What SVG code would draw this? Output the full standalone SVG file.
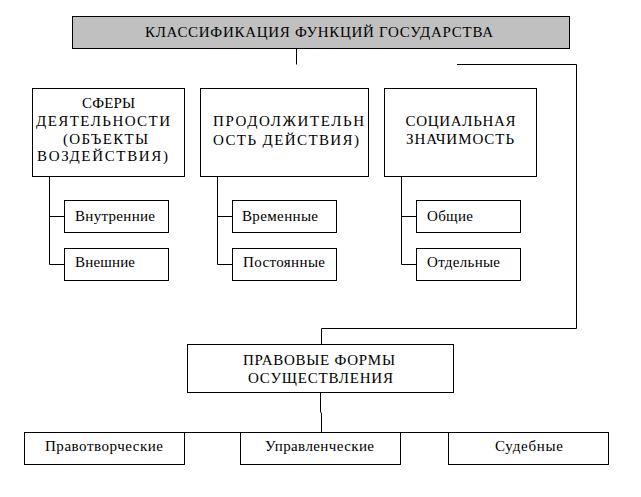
<svg xmlns="http://www.w3.org/2000/svg" width="641" height="497" viewBox="0 0 641 497">
<style>
rect{fill:#fff;stroke:#000;stroke-width:1}
#title rect{fill:#c0c0c0}
text{font-family:"Liberation Serif","Times New Roman",serif;font-size:15px;fill:#000}
.c{text-anchor:middle}
#connectors path{fill:none;stroke:#000;stroke-width:1}
</style>
<rect x="0" y="0" width="641" height="497" style="fill:#fff;stroke:none"/>
<g id="connectors">
<path d="M296.5 48.5V64.5"/>
<path d="M457 64.5H576.5V328.5H321.5V344.5"/>
<path d="M49.5 176.5V264.5H64.5M49.5 216.5H64.5"/>
<path d="M217.5 176.5V264.5H232.5M217.5 216.5H232.5"/>
<path d="M401.5 176.5V264.5H416.5M401.5 216.5H416.5"/>
<path d="M320.5 392.5V412.5M321.5 412.5V432.5"/>
<path d="M24.5 432.5H608.5"/>
</g>
<g id="title">
<rect x="72.5" y="16.5" width="497" height="32"/>
<text x="319" y="37" class="c" textLength="348" lengthAdjust="spacing">КЛАССИФИКАЦИЯ ФУНКЦИЙ ГОСУДАРСТВА</text>
</g>
<g id="spheres">
<rect x="32.5" y="88.5" width="152" height="88"/>
<text x="108.5" y="108" class="c" textLength="53" lengthAdjust="spacing">СФЕРЫ</text>
<text x="103" y="126" class="c" textLength="134" lengthAdjust="spacing">ДЕЯТЕЛЬНОСТИ</text>
<text x="105.5" y="144" class="c" textLength="85" lengthAdjust="spacing">(ОБЪЕКТЫ</text>
<text x="102.5" y="161" class="c" textLength="131" lengthAdjust="spacing">ВОЗДЕЙСТВИЯ)</text>
</g>
<g id="duration">
<rect x="200.5" y="88.5" width="168" height="88"/>
<text x="288.5" y="126" class="c" textLength="151" lengthAdjust="spacing">ПРОДОЛЖИТЕЛЬН</text>
<text x="286" y="145" class="c" textLength="146" lengthAdjust="spacing">ОСТЬ ДЕЙСТВИЯ)</text>
</g>
<g id="social">
<rect x="384.5" y="88.5" width="152" height="88"/>
<text x="460.5" y="126" class="c" textLength="110" lengthAdjust="spacing">СОЦИАЛЬНАЯ</text>
<text x="460" y="144" class="c" textLength="108" lengthAdjust="spacing">ЗНАЧИМОСТЬ</text>
</g>
<g id="internal">
<rect x="64.5" y="200.5" width="104" height="32"/>
<text x="75" y="221" textLength="80" lengthAdjust="spacing">Внутренние</text>
</g>
<g id="external">
<rect x="64.5" y="248.5" width="104" height="32"/>
<text x="75" y="267" textLength="60" lengthAdjust="spacing">Внешние</text>
</g>
<g id="temporary">
<rect x="232.5" y="200.5" width="104" height="32"/>
<text x="242" y="221" textLength="76" lengthAdjust="spacing">Временные</text>
</g>
<g id="permanent">
<rect x="232.5" y="248.5" width="104" height="32"/>
<text x="243" y="267" textLength="82" lengthAdjust="spacing">Постоянные</text>
</g>
<g id="general">
<rect x="416.5" y="200.5" width="104" height="32"/>
<text x="427" y="221" textLength="46" lengthAdjust="spacing">Общие</text>
</g>
<g id="separate">
<rect x="416.5" y="248.5" width="104" height="32"/>
<text x="427" y="267" textLength="73" lengthAdjust="spacing">Отдельные</text>
</g>
<g id="legal-forms">
<rect x="187.5" y="344.5" width="266" height="48"/>
<text x="319" y="365" class="c" textLength="152" lengthAdjust="spacing">ПРАВОВЫЕ ФОРМЫ</text>
<text x="320.5" y="383" class="c" textLength="145" lengthAdjust="spacing">ОСУЩЕСТВЛЕНИЯ</text>
</g>
<g id="lawmaking">
<rect x="24.5" y="432.5" width="160" height="32"/>
<text x="104" y="451" class="c" textLength="118" lengthAdjust="spacing">Правотворческие</text>
</g>
<g id="managerial">
<rect x="240.5" y="432.5" width="160" height="32"/>
<text x="319.5" y="451" class="c" textLength="109" lengthAdjust="spacing">Управленческие</text>
</g>
<g id="judicial">
<rect x="448.5" y="432.5" width="160" height="32"/>
<text x="529" y="451" class="c" textLength="68" lengthAdjust="spacing">Судебные</text>
</g>
</svg>
